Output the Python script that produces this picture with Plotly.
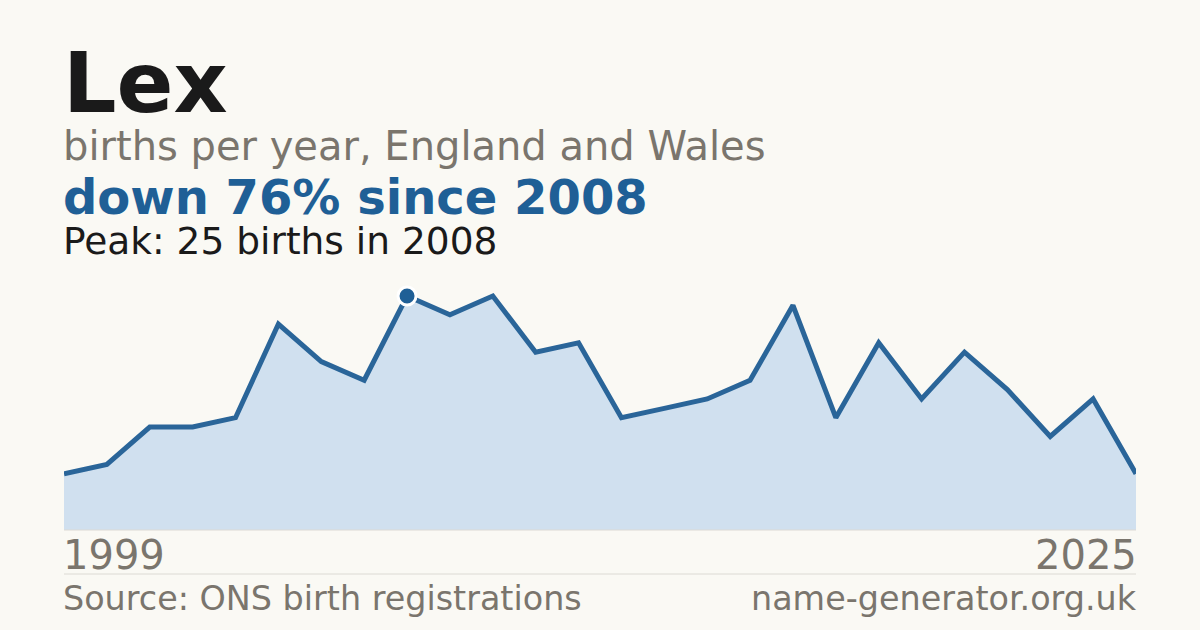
import plotly.graph_objects as go

# Births per year for the name
years = [2000, 2001, 2002, 2003, 2004, 2005, 2006, 2007, 2008, 2009,
         2010, 2011, 2012, 2013, 2014, 2015, 2016, 2017, 2018, 2019,
         2020, 2021, 2022, 2023, 2024, 2025]
births = [6, 7, 11, 11, 12, 22, 18, 16, 25, 23,
          25, 19, 20, 12, 13, 14, 16, 24, 12, 20,
          14, 19, 15, 10, 14, 6]
peak_year = [2008]
peak_births = [25]
end_labels = ["1999", "2025"]

BG = "#faf9f4"
BLUE = "#1f5f96"
GREY = "#7a756d"
INK = "#1a1a1a"
FONT = "DejaVu Sans"
W, H = 1200, 630


def px(x):
    return x / W


def py(y):
    return 1 - y / H


fig = go.Figure()

fig.add_trace(go.Scatter(
    x=years,
    y=births,
    mode="lines",
    fill="tozeroy",
    fillcolor="#d0e0ef",
    line=dict(color="#2a6599", width=5),
    hoverinfo="skip",
))

fig.add_trace(go.Scatter(
    x=peak_year,
    y=peak_births,
    mode="markers",
    marker=dict(size=18, color=BLUE, line=dict(color="white", width=3)),
    hoverinfo="skip",
))


def label(text, x, y, size, color, bold=False, anchor="left"):
    if bold:
        text = f"<b>{text}</b>"
    fig.add_annotation(
        text=text,
        x=px(x), y=py(y),
        xref="paper", yref="paper",
        xanchor=anchor, yanchor="middle",
        showarrow=False,
        borderpad=0,
        font=dict(family=FONT, size=size, color=color),
    )


# header
label("Lex", 62, 83, 84, INK, bold=True)
label("births per year, England and Wales", 62, 146, 40, GREY)
label("down 76% since 2008", 62, 197, 48, BLUE, bold=True)
label("Peak: 25 births in 2008", 62, 241, 37.5, INK)

# axis end labels
label(end_labels[0], 62, 555, 40, GREY)
label(end_labels[1], 1138, 555, 40, GREY, anchor="right")

# footer
label("Source: ONS birth registrations", 62, 598, 33.4, GREY)
label("name-generator.org.uk", 1138, 598, 33.4, GREY, anchor="right")

# baseline and separator
for y in [530, 574]:
    fig.add_shape(
        type="line",
        xref="paper", yref="paper",
        x0=px(64), x1=px(1136), y0=py(y), y1=py(y),
        line=dict(color="#dcdad4", width=1),
    )

fig.update_layout(
    width=W,
    height=H,
    margin=dict(l=0, r=0, t=0, b=0),
    paper_bgcolor=BG,
    plot_bgcolor=BG,
    showlegend=False,
    xaxis=dict(
        domain=[px(64), px(1136)],
        range=[years[0], years[-1]],
        visible=False,
    ),
    yaxis=dict(
        domain=[py(530), py(270)],
        range=[0, 25 * 260 / 234],
        visible=False,
    ),
)

# drop the default page margin so the card fills the window
fig.write_html(
    "out.html",
    config={"displayModeBar": False},
    post_script="document.body.style.margin='0';"
                "document.body.style.background='" + BG + "';",
)
